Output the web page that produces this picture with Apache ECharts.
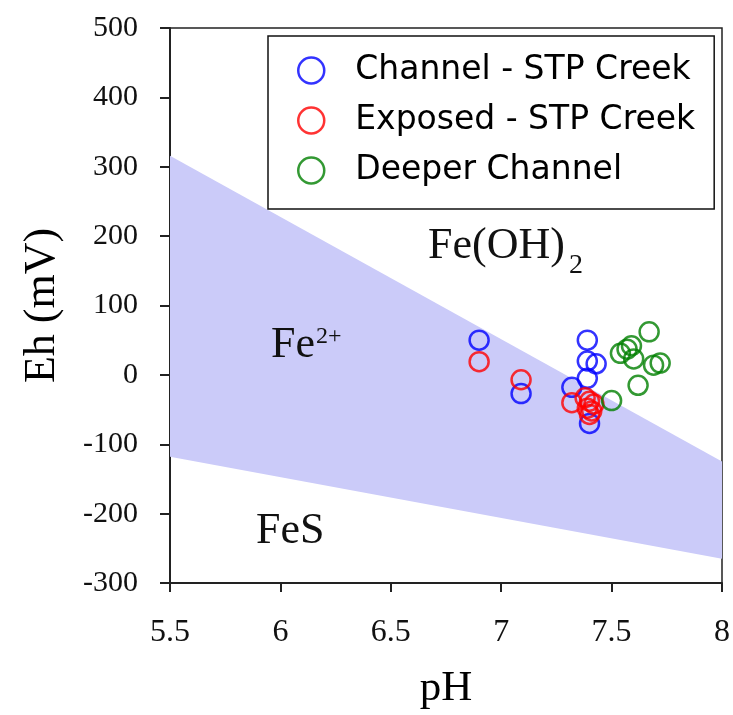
<!DOCTYPE html>
<html>
<head>
<meta charset="utf-8">
<script src="https://cdn.jsdelivr.net/npm/echarts@6/dist/echarts.min.js"></script>
<style>
  html, body { margin: 0; padding: 0; background: #fff; }
  #chart { width: 733px; height: 715px; }
</style>
</head>
<body>
<div id="chart"></div>
<script>
// Axis ticks
const phTicks = [5.5, 6, 6.5, 7, 7.5, 8];
const ehTicks = [-300, -200, -100, 0, 100, 200, 300, 400, 500];

// Fe2+ stability band: upper (Fe(OH)2) and lower (FeS) boundaries, Eh in mV
const bandPH = [5.5, 8];
const bandUpper = [316, -125];
const bandLower = [-118, -265];

// Sample measurements (pH, Eh in mV)
const channelPH = [6.90, 7.09, 7.39, 7.39, 7.43, 7.39, 7.32, 7.40];
const channelEh = [50, -27, 50, 20, 16, -5, -18, -70];

const exposedPH = [6.90, 7.09, 7.32, 7.38, 7.40, 7.42, 7.39, 7.41, 7.40];
const exposedEh = [19, -7, -40, -33, -38, -42, -48, -52, -57];

const deeperPH = [7.50, 7.54, 7.57, 7.59, 7.60, 7.62, 7.67, 7.69, 7.72];
const deeperEh = [-37, 31, 37, 42, 23, -15, 62, 14, 17];

const seriesNames = ['Channel - STP Creek', 'Exposed - STP Creek', 'Deeper Channel'];
const seriesColors = ['#0000ff', '#ff0000', '#008000'];
const bandColor = '#cbcbf9';

function pairs(xs, ys) { return xs.map((x, i) => [x, ys[i]]); }

const serif = '"Liberation Serif", "Times New Roman", serif';

function scatter(idx, xs, ys) {
  return {
    name: seriesNames[idx],
    type: 'scatter',
    z: 3,
    symbol: 'circle',
    symbolSize: 19,
    color: seriesColors[idx],
    itemStyle: { color: 'rgba(0,0,0,0)', borderColor: seriesColors[idx], borderWidth: 2.5 },
    emphasis: { disabled: true },
    data: pairs(xs, ys)
  };
}

function label(text, x, y, size) {
  return {
    type: 'text', x: x, y: y, z: 10,
    style: {
      text: text, font: size + 'px ' + serif, fill: '#111',
      textAlign: 'left', textVerticalAlign: 'middle', align: 'left', verticalAlign: 'middle'
    }
  };
}

const chart = echarts.init(document.getElementById('chart'), null, { renderer: 'canvas' });

chart.setOption({
  animation: false,
  backgroundColor: '#fff',
  grid: {
    left: 170, top: 28, right: 10, bottom: 131,
    show: true, borderColor: '#222', borderWidth: 1.5, backgroundColor: 'transparent'
  },
  xAxis: {
    type: 'value',
    min: phTicks[0], max: phTicks[phTicks.length - 1], interval: 0.5,
    name: 'pH', nameLocation: 'middle', nameGap: 84,
    nameTextStyle: { fontFamily: serif, fontSize: 43, color: '#000' },
    axisLine: { onZero: false, lineStyle: { color: '#222', width: 2 } },
    axisTick: { inside: false, length: 9, lineStyle: { color: '#222', width: 2 } },
    axisLabel: { margin: 34, fontFamily: serif, fontSize: 32, color: '#111' },
    splitLine: { show: false }
  },
  yAxis: {
    type: 'value',
    min: ehTicks[0], max: ehTicks[ehTicks.length - 1], interval: 100,
    name: 'Eh (mV)', nameLocation: 'middle', nameGap: 106, nameRotate: 90,
    nameTextStyle: { fontFamily: serif, fontSize: 44, color: '#000' },
    axisLine: { onZero: false, lineStyle: { color: '#222', width: 2 } },
    axisTick: { inside: false, length: 10, lineStyle: { color: '#222', width: 2 } },
    axisLabel: { margin: 32, fontFamily: serif, fontSize: 30, color: '#111' },
    splitLine: { show: false }
  },
  legend: {
    data: seriesNames,
    orient: 'vertical',
    left: 268, top: 36,
    padding: [18, 19, 22, 29],
    itemWidth: 26, itemHeight: 26, itemGap: 17,
    borderColor: '#111', borderWidth: 1.5, backgroundColor: '#fff',
    itemStyle: { borderWidth: 2.5 },
    textStyle: {
      fontFamily: '"DejaVu Sans", Verdana, sans-serif', fontSize: 33, color: '#000',
      padding: [0, 0, 0, 26]
    },
    selectedMode: false
  },
  graphic: [
    label('Fe(OH)', 428, 246, 44),
    label('2', 569, 266, 28),
    label('Fe', 271, 345, 44),
    label('2+', 316, 337, 24),
    label('FeS', 256, 531, 44)
  ],
  series: [
    {
      type: 'custom',
      name: 'band',
      z: 1,
      silent: true,
      clip: true,
      data: [0],
      renderItem: function (params, api) {
        const top = bandPH.map((p, i) => api.coord([p, bandUpper[i]]));
        const bottom = bandPH.map((p, i) => api.coord([p, bandLower[i]])).reverse();
        return { type: 'polygon', shape: { points: top.concat(bottom) }, style: { fill: bandColor } };
      }
    },
    scatter(0, channelPH, channelEh),
    scatter(1, exposedPH, exposedEh),
    scatter(2, deeperPH, deeperEh)
  ]
});
</script>
</body>
</html>
